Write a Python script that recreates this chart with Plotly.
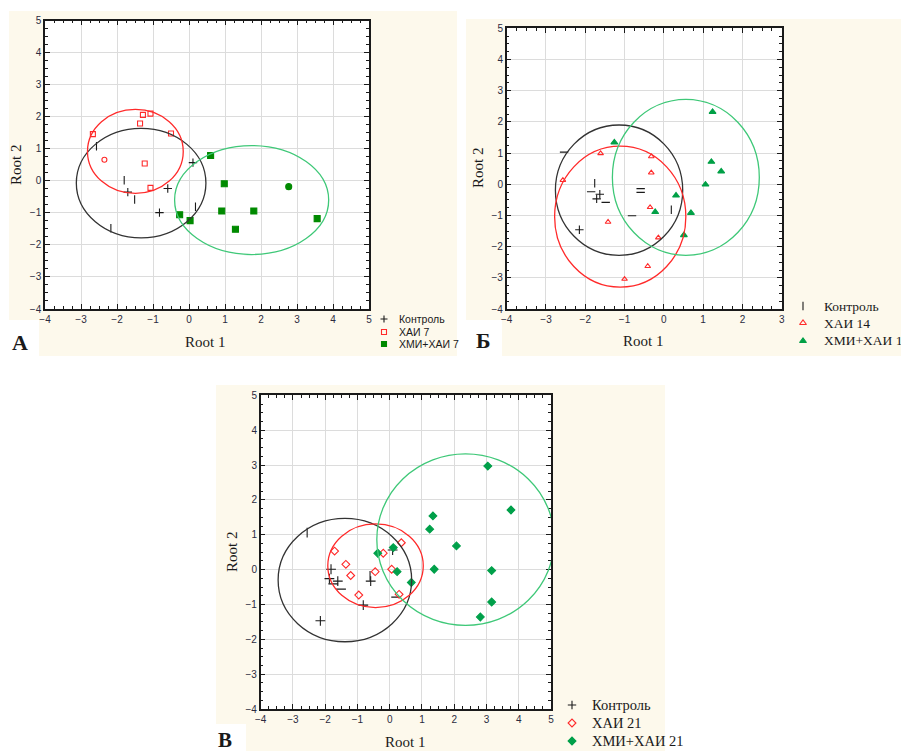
import plotly.graph_objects as go

W, H = 901, 751

# ---------------- data ----------------
# Panel A
ctrl_A_x = [-2.57, -1.80, -1.70, -1.51, -2.17, -0.82, -0.59, 0.11, 0.18]
ctrl_A_y = [1.08, 0.02, -0.35, -0.58, -1.48, -0.99, -0.24, 0.57, -0.81]
hai7_x = [-2.67, -2.35, -1.36, -1.28, -1.07, -0.50, -1.23, -1.07]
hai7_y = [1.46, 0.66, 1.79, 2.06, 2.10, 1.48, 0.54, -0.22]
hmi7_x = [0.60, 0.98, 2.77, 0.91, 1.80, 1.29, 3.56, -0.26, 0.03]
hmi7_y = [0.79, -0.09, -0.18, -0.94, -0.94, -1.51, -1.18, -1.06, -1.24]
# ellipses: centre x, centre y, radius x, radius y
ell_A = {"ctrl": (-1.33, -0.07, 1.80, 1.71), "hai": (-1.49, 0.92, 1.33, 1.31), "hmi": (1.74, -0.60, 2.14, 1.70)}

# Panel Б
ctrl_B_x = [-2.54, -1.76, -1.85, -1.63, -1.71, -1.48, -2.15, -0.59, -0.59, -0.81, 0.19]
ctrl_B_y = [1.03, 0.03, -0.24, -0.32, -0.47, -0.58, -1.46, -0.14, -0.26, -1.01, -0.82]
hai14_x = [-2.57, -1.61, -1.42, -0.32, -0.32, -0.35, -0.14, -0.41, -1.00]
hai14_y = [0.13, 0.99, -1.21, 0.89, 0.37, -0.74, -1.71, -2.63, -3.04]
hmi14_x = [-1.26, 1.24, 1.21, 1.46, 1.06, 0.31, -0.22, 0.69, 0.51]
hmi14_y = [1.34, 2.32, 0.72, 0.41, -0.01, -0.36, -0.89, -0.92, -1.63]
ell_B = {"ctrl": (-1.14, -0.19, 1.62, 2.09), "hai": (-1.11, -1.04, 1.67, 2.26), "hmi": (0.56, 0.22, 1.87, 2.50)}

# Panel В
ctrl_V_x = [-2.56, -1.82, -1.87, -1.61, -1.51, -1.75, -2.15, -0.61, -0.59, -0.82, 0.09, 0.20]
ctrl_V_y = [1.06, 0.01, -0.26, -0.33, -0.56, -0.41, -1.47, -0.18, -0.33, -1.02, 0.56, -0.79]
hai21_x = [-1.71, -1.36, -1.21, -0.96, -0.45, -0.20, 0.06, 0.36, 0.29]
hai21_y = [0.53, 0.15, -0.17, -0.73, -0.06, 0.47, 0.01, 0.77, -0.71]
hmi21_x = [-0.37, 0.11, 0.23, 0.67, 1.34, 1.24, 1.38, 2.07, 3.04, 3.76, 3.16, 3.16, 2.81]
hmi21_y = [0.47, 0.63, -0.06, -0.37, 1.54, 1.16, 0.01, 0.68, 2.97, 1.71, -0.03, -0.93, -1.36]
ell_V = {"ctrl": (-1.39, -0.30, 2.07, 1.77), "hai": (-0.44, 0.11, 1.48, 1.20), "hmi": (2.35, 0.86, 2.75, 2.46)}

# ---------------- styling ----------------
CREAM = "#fdf9ec"
BLACK = "#1a1a1a"
RED = "#ff2a2a"
GREEN_E = "#3fc878"
SERIF = "Liberation Serif, Times New Roman, serif"
SANS = "Liberation Sans, Arial, sans-serif"

# per-point marker glyphs as they appear in the rendered source (style only)
NS, EW, CR = "line-ns", "line-ew", "cross-thin"
sym_ctrl_A = [NS, NS, CR, NS, NS, CR, CR, CR, NS]
sym_ctrl_B = [EW, NS, EW, CR, CR, EW, CR, EW, EW, EW, NS]
sym_ctrl_V = [NS, CR, CR, CR, EW, EW, CR, NS, CR, CR, CR, EW]
sym_hai7 = ["square-open", "circle-open"] + ["square-open"] * 6
sym_hmi7 = ["square", "square", "circle"] + ["square"] * 6


def px_x(p):
    return p / W


def px_y(p):
    return 1 - p / H


# subplot plot-area pixel boxes (left, right, top, bottom)
boxes = {
    "A": (45, 369, 20.7, 309),
    "B": (506.7, 781.7, 28.3, 309),
    "V": (260.7, 551, 395.3, 709),
}
xr = {"A": [-4, 5], "B": [-4, 3], "V": [-4, 5]}

fig = go.Figure()

shapes = []
cream_rects = [
    (9, 457, 11, 320), (39, 457, 319, 356),
    (466, 901, 19, 320), (502, 901, 319, 356),
    (216, 665, 385, 724), (246, 665, 723, 751),
]
for l, r, t, b in cream_rects:
    shapes.append(dict(type="rect", xref="paper", yref="paper", x0=px_x(l), x1=px_x(r),
                       y0=px_y(b), y1=px_y(t), fillcolor=CREAM, line_width=0, layer="below"))
for k, (l, r, t, b) in boxes.items():
    shapes.append(dict(type="rect", xref="paper", yref="paper", x0=px_x(l), x1=px_x(r),
                       y0=px_y(b), y1=px_y(t), fillcolor="white", line_width=0, layer="below"))

axis_ids = {"A": ("x", "y"), "B": ("x2", "y2"), "V": ("x3", "y3")}

panels = {
    "A": [("Контроль", ctrl_A_x, ctrl_A_y, sym_ctrl_A, BLACK, 6),
          ("ХАИ 7", hai7_x, hai7_y, sym_hai7, RED, 5),
          ("ХМИ+ХАИ 7", hmi7_x, hmi7_y, sym_hmi7, "#008a00", 6)],
    "B": [("Контроль", ctrl_B_x, ctrl_B_y, sym_ctrl_B, BLACK, 6),
          ("ХАИ 14", hai14_x, hai14_y, "triangle-up-open", RED, 5),
          ("ХМИ+ХАИ 14", hmi14_x, hmi14_y, "triangle-up", "#00a046", 6)],
    "V": [("Контроль", ctrl_V_x, ctrl_V_y, sym_ctrl_V, BLACK, 7),
          ("ХАИ 21", hai21_x, hai21_y, "diamond-open", RED, 6),
          ("ХМИ+ХАИ 21", hmi21_x, hmi21_y, "diamond", "#00a04a", 6)],
}
ellipses = {"A": ell_A, "B": ell_B, "V": ell_V}
ell_colors = {"ctrl": "#333333", "hai": RED, "hmi": GREEN_E}

for k in ["A", "B", "V"]:
    xa, ya = axis_ids[k]
    for name, xs, ys, sym, col, sz in panels[k]:
        fig.add_trace(go.Scatter(
            x=xs, y=ys, mode="markers", name=name, xaxis=xa, yaxis=ya, showlegend=False,
            marker=dict(symbol=sym, color=col, size=sz,
                        line=dict(color=col, width=1.1)),
        ))
    for key, (cx, cy, rx, ry) in ellipses[k].items():
        shapes.append(dict(type="circle", xref=xa, yref=ya,
                           x0=cx - rx, x1=cx + rx, y0=cy - ry, y1=cy + ry,
                           line=dict(color=ell_colors[key], width=1.3), layer="above"))

# ---- hand-placed legends (pixel overlay axis) ----
legend_pos = {  # marker x, text x, row y's, font family, size
    "A": (384, 397, [319, 332, 344], SANS, 10.5),
    "B": (803, 822, [306, 323, 341], SERIF, 13.5),
    "V": (572, 590, [705, 723, 741], SERIF, 14.5),
}
legend_sym = {
    "A": ["cross-thin", "square-open", "square"],
    "B": ["line-ns", "triangle-up-open", "triangle-up"],
    "V": ["cross-thin", "diamond-open", "diamond"],
}
annotations = []
for k in ["A", "B", "V"]:
    mx, tx, ys, fam, fs = legend_pos[k]
    for (name, _, _, _, col, sz), sym, yy in zip(panels[k], legend_sym[k], ys):
        fig.add_trace(go.Scatter(
            x=[mx], y=[yy], mode="markers", xaxis="x4", yaxis="y4", showlegend=False,
            hoverinfo="skip", cliponaxis=False,
            marker=dict(symbol=sym, color=col, size=5 if k == "A" else 6,
                        line=dict(color=col, width=1.1)),
        ))
        annotations.append(dict(text=name, x=px_x(tx), y=px_y(yy), xref="paper", yref="paper",
                                showarrow=False, xanchor="left", yanchor="middle",
                                font=dict(family=fam, size=fs, color="#1a1a1a")))

axis_common = dict(
    showline=True, linecolor=BLACK, linewidth=1.5, mirror="allticks",
    ticks="inside", ticklen=5, tickcolor=BLACK, tickwidth=1,
    showgrid=True, gridcolor="#dcdcdc", gridwidth=1, zeroline=False,
    dtick=1, tickfont=dict(family=SANS, size=10, color="#2b2b3f"),
    minor=dict(dtick=0.25, ticks="inside", ticklen=3, tickcolor=BLACK, showgrid=False),
)

layout_axes = {}
for i, k in enumerate(["A", "B", "V"]):
    l, r, t, b = boxes[k]
    sfx = "" if i == 0 else str(i + 1)
    layout_axes["xaxis" + sfx] = dict(axis_common, domain=[px_x(l), px_x(r)], range=xr[k],
                                      anchor="y" + sfx)
    layout_axes["yaxis" + sfx] = dict(axis_common, domain=[px_y(b), px_y(t)], range=[-4, 5],
                                      anchor="x" + sfx)
layout_axes["xaxis4"] = dict(domain=[0, 1], range=[0, W], visible=False, fixedrange=True, anchor="y4")
layout_axes["yaxis4"] = dict(domain=[0, 1], range=[H, 0], visible=False, fixedrange=True, anchor="x4")


def ann(text, x, y, size, family=SERIF, angle=0, bold=False, color="#1a1a1a"):
    annotations.append(dict(text=("<b>%s</b>" % text) if bold else text, x=px_x(x), y=px_y(y),
                            xref="paper", yref="paper", showarrow=False, textangle=angle,
                            xanchor="center", yanchor="middle",
                            font=dict(family=family, size=size, color=color)))


ann("Root 1", 205, 342, 15)
ann("Root 2", 16, 165, 15, angle=-90)
ann("Root 1", 643, 341, 15)
ann("Root 2", 478, 168, 15, angle=-90)
ann("Root 1", 405, 742, 15)
ann("Root 2", 232, 552, 15, angle=-90)
ann("А", 20, 342, 22, bold=True)
ann("Б", 483, 341, 22, bold=True)
ann("В", 225, 740, 21, bold=True)

fig.update_layout(
    width=W, height=H, margin=dict(l=0, r=0, t=0, b=0, autoexpand=False),
    paper_bgcolor="white", plot_bgcolor="rgba(0,0,0,0)",
    shapes=shapes, annotations=annotations, showlegend=False,
    **layout_axes,
)

fig.write_html(
    "out.html",
    config={"displayModeBar": False},
    post_script="document.body.style.margin='0px';document.body.style.overflow='hidden';",
)
